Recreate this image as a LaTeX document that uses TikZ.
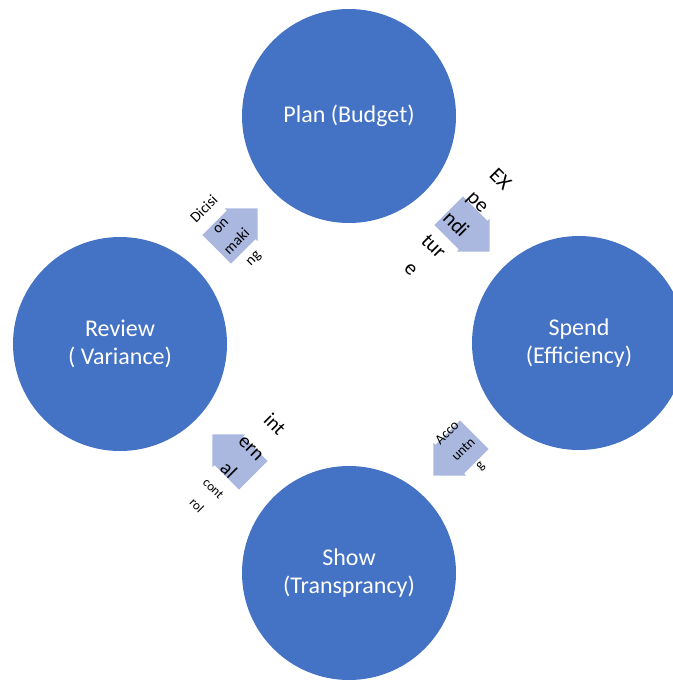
\documentclass[tikz,border=0pt]{standalone}
\usepackage{fontspec}
\setmainfont{Carlito}
\usetikzlibrary{shapes.arrows}
\definecolor{circblue}{HTML}{4472C4}
\definecolor{arrowblue}{RGB}{170,184,224}
\begin{document}
\begin{tikzpicture}[x=1pt,y=-1pt,
  stage/.style={circle, fill=circblue, draw=none, minimum size=214pt, inner sep=0pt,
    text=white, align=center, font=\fontsize{24}{28}\selectfont},
  cyclearrow/.style={single arrow, fill=arrowblue, draw=none, single arrow tip angle=90,
    single arrow head extend=3pt, minimum height=58pt, minimum width=46pt,
    inner xsep=0pt, inner ysep=20pt},
  lbl/.style={align=center, inner sep=0pt, text=black}]
\useasboundingbox (0,0) rectangle (672,680);
\node[stage] (plan)   at (349,116) {Plan (Budget)};
\node[stage] (spend)  at (579,343) {Spend\\(Efficiency)};
\node[stage] (show)   at (349,573) {Show\\(Transprancy)};
\node[stage] (review) at (120,344) {Review\\( Variance)};

\node[cyclearrow, rotate=-45]  (a1) at (462,224) {};
\node[cyclearrow, rotate=-135] (a2) at (461,448) {};
\node[cyclearrow, rotate=135]  (a3) at (240,462) {};
\node[cyclearrow, rotate=45]   (a4) at (230,236) {};

\node[lbl, rotate=-45, font=\fontsize{21}{31.5}\selectfont] (t1) at (456,224) {EX\\pe\\ndi\\tur\\e};
\node[lbl, rotate=45, font=\fontsize{14}{23}\selectfont] (t2) at (464,450) {Acco\\untn\\g};
\node[lbl, rotate=-45, font=\fontsize{20}{32.5}\selectfont] (t3) at (252,447) {int\\ern\\al};
\node[lbl, rotate=-45, font=\fontsize{13}{23.5}\selectfont] (t3b) at (205,497) {cont\\rol};
\node[lbl, rotate=45, font=\fontsize{15}{23}\selectfont] (t4) at (229,234) {Dicisi\\on\\maki\\ng};
\end{tikzpicture}
\end{document}
